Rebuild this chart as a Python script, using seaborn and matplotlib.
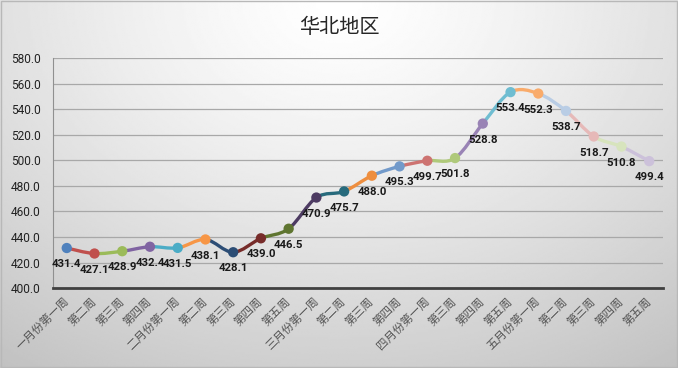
import numpy as np
import pandas as pd
import matplotlib
matplotlib.use("Agg")
import matplotlib.pyplot as plt
from matplotlib.path import Path
from matplotlib.patches import PathPatch, Rectangle
import seaborn as sns

# ---- data ----
categories = ["一月份第一周", "第二周", "第三周", "第四周",
              "二月份第一周", "第二周", "第三周", "第四周", "第五周",
              "三月份第一周", "第二周", "第三周", "第四周",
              "四月份第一周", "第三周", "第四周", "第五周",
              "五月份第一周", "第二周", "第三周", "第四周", "第五周"]
values = [431.4, 427.1, 428.9, 432.4, 431.5, 438.1, 428.1, 439.0, 446.5,
          470.9, 475.7, 488.0, 495.3, 499.7, 501.8, 528.8, 553.4, 552.3,
          538.7, 518.7, 510.8, 499.4]
point_colors = ["#4F81BD", "#C0504D", "#9BBB59", "#8064A2", "#4BACC6", "#F79646",
                "#2C4D75", "#772C2A", "#5F7530", "#4D3B62", "#276A7C", "#EE8E3F",
                "#729ACA", "#CD7371", "#AFC97A", "#9983B5", "#6FBDD1", "#F9AB6B",
                "#B9CDE5", "#E6B9B8", "#D7E4BD", "#CCC1DA"]
title = "华北地区"
y_ticks = [400, 420, 440, 460, 480, 500, 520, 540, 560, 580]

sns.set_theme(style="white")
plt.rcParams['font.family'] = ['Noto Sans CJK SC', 'DejaVu Sans']

fig = plt.figure(figsize=(6.78, 3.68), dpi=100)

# background radial gradient
bg = fig.add_axes([0, 0, 1, 1], zorder=-10)
gx, gy = np.meshgrid(np.linspace(0, 1, 400), np.linspace(0, 1, 220))
d = np.sqrt(((gx - 0.5) / 0.75) ** 2 + ((gy - 1.0) / 1.05) ** 2)
shade = 1.0 - 0.20 * np.clip(d, 0, 1.2) ** 1.3
bg.imshow(shade, cmap="gray", vmin=0, vmax=1, origin="lower",
          extent=[0, 1, 0, 1], aspect="auto", interpolation="bilinear")
bg.set_axis_off()
fig.patches.append(Rectangle((0.001, 0.002), 0.997, 0.995, transform=fig.transFigure,
                             fill=False, edgecolor="#b8b8b8", linewidth=1.0))

ax = fig.add_axes([0.078, 0.217, 0.900, 0.625])
ax.set_facecolor("none")

df = pd.DataFrame({"x": np.arange(len(values)), "y": values,
                   "cat": [str(i) for i in range(len(values))]})

# smoothed colored segments (Catmull-Rom bezier as Excel smooth line)
xs = df["x"].to_numpy(dtype=float)
ys = np.array(values, dtype=float)
n = len(xs)
for i in range(1, n):
    p0 = np.array([xs[max(i - 2, 0)], ys[max(i - 2, 0)]])
    p1 = np.array([xs[i - 1], ys[i - 1]])
    p2 = np.array([xs[i], ys[i]])
    p3 = np.array([xs[min(i + 1, n - 1)], ys[min(i + 1, n - 1)]])
    c1 = p1 + (p2 - p0) / 6.0
    c2 = p2 - (p3 - p1) / 6.0
    path = Path([p1, c1, c2, p2], [Path.MOVETO, Path.CURVE4, Path.CURVE4, Path.CURVE4])
    ax.add_patch(PathPatch(path, facecolor="none", edgecolor=point_colors[i],
                           linewidth=2.4, capstyle="round", zorder=3))

sns.scatterplot(data=df, x="x", y="y", hue="cat", palette=point_colors,
                s=55, edgecolor=None, linewidth=0, legend=False, zorder=4, ax=ax)

for xi, yi in zip(xs, ys):
    ax.annotate(f"{yi:.1f}", (xi, yi), xytext=(0, -8), textcoords="offset points",
                ha="center", va="top", fontsize=8.2, fontweight="bold",
                family=["Roboto", "DejaVu Sans"], color="#1a1a1a", zorder=5)

ax.set_xlim(-0.5, n - 0.5)
ax.set_ylim(400, 580)
ax.set_yticks(y_ticks)
ax.set_yticklabels([f"{v:.1f}" for v in y_ticks], family=["Roboto", "DejaVu Sans"],
                   fontsize=8.6, color="#222222")
ax.set_xticks(np.arange(n))
ax.set_xticklabels(categories, rotation=45, ha="right", va="center",
                   rotation_mode="anchor", fontsize=8.3, color="#555555")
ax.set_xticks(np.arange(n + 1) - 0.5, minor=True)
ax.tick_params(axis="x", which="major", length=0, pad=8)
ax.tick_params(axis="x", which="minor", length=4, width=1.5, color="#404040", direction="out")
ax.tick_params(axis="y", which="major", length=3, width=0.8, color="#808080",
               direction="out", pad=6)
ax.yaxis.grid(True, color="#a8a8a8", linewidth=0.9)
ax.xaxis.grid(False)
ax.set_axisbelow(True)
for s in ["top", "right"]:
    ax.spines[s].set_visible(False)
ax.spines["left"].set_color("#909090")
ax.spines["left"].set_linewidth(0.8)
ax.spines["bottom"].set_color("#404040")
ax.spines["bottom"].set_linewidth(2)
ax.spines["bottom"].set_zorder(6)
ax.set_xlabel("")
ax.set_ylabel("")

fig.text(0.5, 0.925, title, ha="center", va="center", fontsize=14.5, color="#262626")

fig.savefig("out.png", dpi=100)
